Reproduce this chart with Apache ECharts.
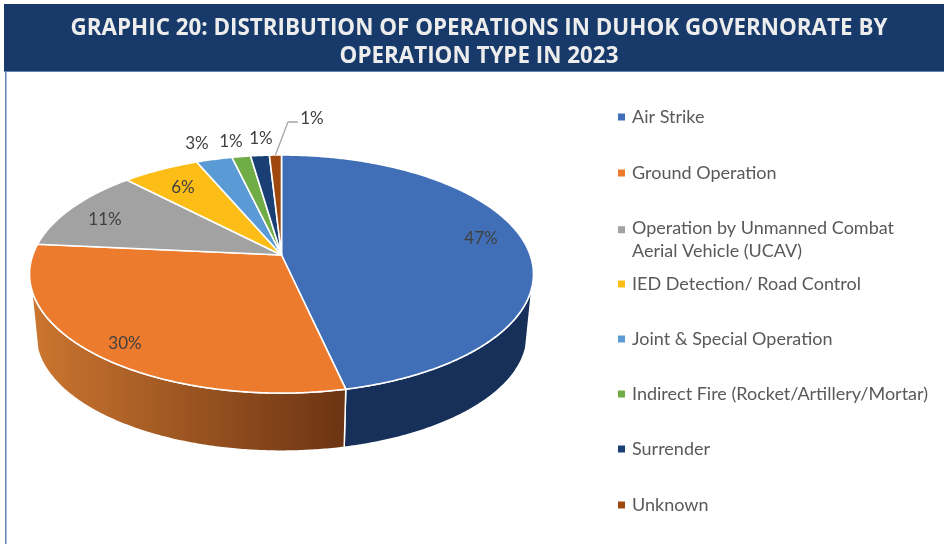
<!DOCTYPE html>
<html><head><meta charset="utf-8">
<style>html,body{margin:0;padding:0;background:#fff}#c{width:944px;height:544px}</style>
<script src="https://cdn.jsdelivr.net/npm/echarts@6/dist/echarts.min.js"></script>
</head><body><div id="c"></div>
<script>
const categories = ['Air Strike','Ground Operation','Operation by Unmanned Combat\nAerial Vehicle (UCAV)','IED Detection/ Road Control','Joint & Special Operation','Indirect Fire (Rocket/Artillery/Mortar)','Surrender','Unknown'];
const shares = [46.5,30,11.3,5.8,2.7,1.4,1.4,0.9];
const titleText = 'GRAPHIC 20: DISTRIBUTION OF OPERATIONS IN DUHOK GOVERNORATE BY\nOPERATION TYPE IN 2023';

const colors = ['#416FB7','#EC7B2E','#A2A2A2','#FBBD16','#5B9BD5','#70AD47','#1A3F75','#9E480E'];
const wallStops = [['#16305A','#16305A'],['#CC7630','#6C3413']];
// label centres in page pixels
const labelAt = [[481,239],[125,344],[105,220],[183,188],[197,144],[231,142],[261,139],[312,119]];
const legendFirstLine = [117,173,228,284,339,394,449,505];

const G = {cx:281.5, cy:255, R:248.7, S:116, k:0.16, wallScale:0.975, wallCy:316.5, wallFrom:105, wallTo:254};
const total = shares.reduce((a,b)=>a+b,0);
const cum = [0]; shares.forEach((v,i)=>cum.push(cum[i]+v));
const ang = p => p/total*360;
function rim(deg){
  const t=deg*Math.PI/180,u=Math.sin(t),v=-Math.cos(t),d=1-G.k*v;
  return [G.cx+G.R*u/d, G.cy+G.S*v/d];
}
function low(deg){
  const p=rim(deg);
  return [G.cx+(p[0]-G.cx)*G.wallScale, G.wallCy+(p[1]-G.cy)*G.wallScale];
}
function arc(a,b,f){const n=Math.max(2,Math.ceil((b-a)*2)),o=[];for(let i=0;i<=n;i++)o.push(f(a+(b-a)*i/n));return o;}

function render(idx){
  return function(params,api){
    const a=ang(cum[idx]), b=ang(cum[idx+1]), val=api.value(0), kids=[];
    const wa=Math.max(a,G.wallFrom), wb=Math.min(b,G.wallTo);
    if(wb>wa){
      const stops=wallStops[idx]||[colors[idx],colors[idx]];
      kids.push({type:'polygon',shape:{points:arc(wa,wb,rim).concat(arc(wa,wb,low).reverse())},
        style:{fill:{type:'linear',global:true,x:rim(wb)[0]<rim(wa)[0]?31:345,y:0,x2:rim(wb)[0]<rim(wa)[0]?345:531,y2:0,
          colorStops:[{offset:0,color:stops[0]},{offset:1,color:stops[1]}]},stroke:'#fff',lineWidth:1.5}});
    }
    kids.push({type:'polygon',shape:{points:[[G.cx,G.cy]].concat(arc(a,b,rim))},
      style:{fill:colors[idx],stroke:'#fff',lineWidth:1.6,lineJoin:'round'}});
    if(idx===shares.length-1){
      const mid=rim((a+b)/2);
      kids.push({type:'polyline',shape:{points:[[mid[0],mid[1]],[288,122],[298,122]]},style:{fill:null,stroke:'#A6A6A6',lineWidth:1.3}});
    }
    kids.push({type:'text',z2:10,style:{text:Math.round(val)+'%',x:labelAt[idx][0],y:labelAt[idx][1],align:'center',verticalAlign:'middle',
      font:'17px Lato',fill:'#404040'}});
    return {type:'group',children:kids};
  };
}

const LH=23;
const legends = categories.map((name,i)=>{
  const two=name.indexOf('\n')>=0;
  return {
    orient:'vertical',left:618,top:legendFirstLine[i]-(LH/2),padding:0,data:[name],itemWidth:7,itemHeight:two?LH*2:7,
    icon:two?'path://M0 19.5h7v7h-7zM0 45.99h0.01v0.01h-0.01z':'rect',
    selectedMode:false,
    textStyle:{fontFamily:'Lato',fontSize:18,color:'#595959',lineHeight:LH,padding:[0,0,0,2],height:two?LH*2:LH}
  };
});

const chart = echarts.init(document.getElementById('c'),null,{renderer:'canvas'});
chart.setOption({
  animation:false,
  backgroundColor:'#fff',
  title:{text:titleText,left:474,top:10,textAlign:'center',
    textStyle:{fontFamily:'Open Sans',fontWeight:700,fontSize:22.4,color:'#EDEDED',lineHeight:28}},
  legend:legends,
  graphic:[
    {type:'rect',z:-1,shape:{x:4,y:4,width:940,height:67},style:{fill:'#173A6B'}},
    {type:'rect',z:-1,shape:{x:4,y:71,width:940,height:1},style:{fill:'#5F82AE'}},
    {type:'rect',z:-1,shape:{x:5,y:71,width:1.5,height:473},style:{fill:'#5F86B5'}}
  ],
  series:categories.map((name,i)=>({
    type:'custom',name,coordinateSystem:'none',
    itemStyle:{color:colors[i]},silent:true,
    data:[[shares[i]]],renderItem:render(i)
  }))
});
</script></body></html>
